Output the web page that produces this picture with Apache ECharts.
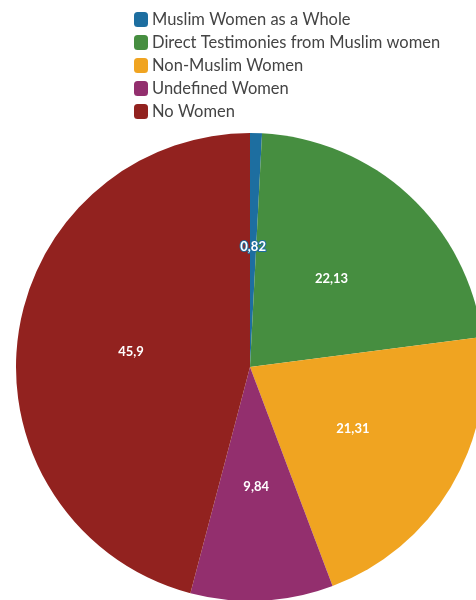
<!DOCTYPE html>
<html>
<head>
<meta charset="utf-8">
<script src="https://cdn.jsdelivr.net/npm/echarts@6/dist/echarts.min.js"></script>
<style>
html,body{margin:0;padding:0;background:#fff;}
#chart{width:476px;height:600px;}
</style>
</head>
<body>
<div id="chart"></div>
<script>
const categories = ["Muslim Women as a Whole","Direct Testimonies from Muslim women","Non-Muslim Women","Undefined Women","No Women"];
const values = [0.82, 22.13, 21.31, 9.84, 45.9];
const colors = ["#1d6ea0","#468e40","#f0a421","#932f6e","#92221f"];

const chart = echarts.init(document.getElementById('chart'), null, {renderer:'canvas'});
chart.setOption({
  animation:false,
  legend:{
    orient:'vertical',
    left:134, top:11, padding:0,
    itemWidth:14, itemHeight:15, itemGap:6,
    icon:'roundRect',
    textStyle:{fontFamily:'Lato', fontSize:16.5, color:'#444', padding:[0,0,0,-1]},
    data:categories
  },
  series:[{
    type:'pie',
    center:[250,367],
    radius:234,
    startAngle:90,
    clockwise:true,
    label:{
      position:'inside',
      color:'#fff',
      fontFamily:'Lato',
      fontWeight:'bold',
      fontSize:13,
      textBorderWidth:2,
      formatter:p=>String(p.value).replace('.',',')
    },
    labelLine:{show:false},
    data:categories.map((c,i)=>({
      name:c, value:values[i],
      itemStyle:{color:colors[i]},
      label:{textBorderColor:colors[i]}
    }))
  }]
});
</script>
</body>
</html>
